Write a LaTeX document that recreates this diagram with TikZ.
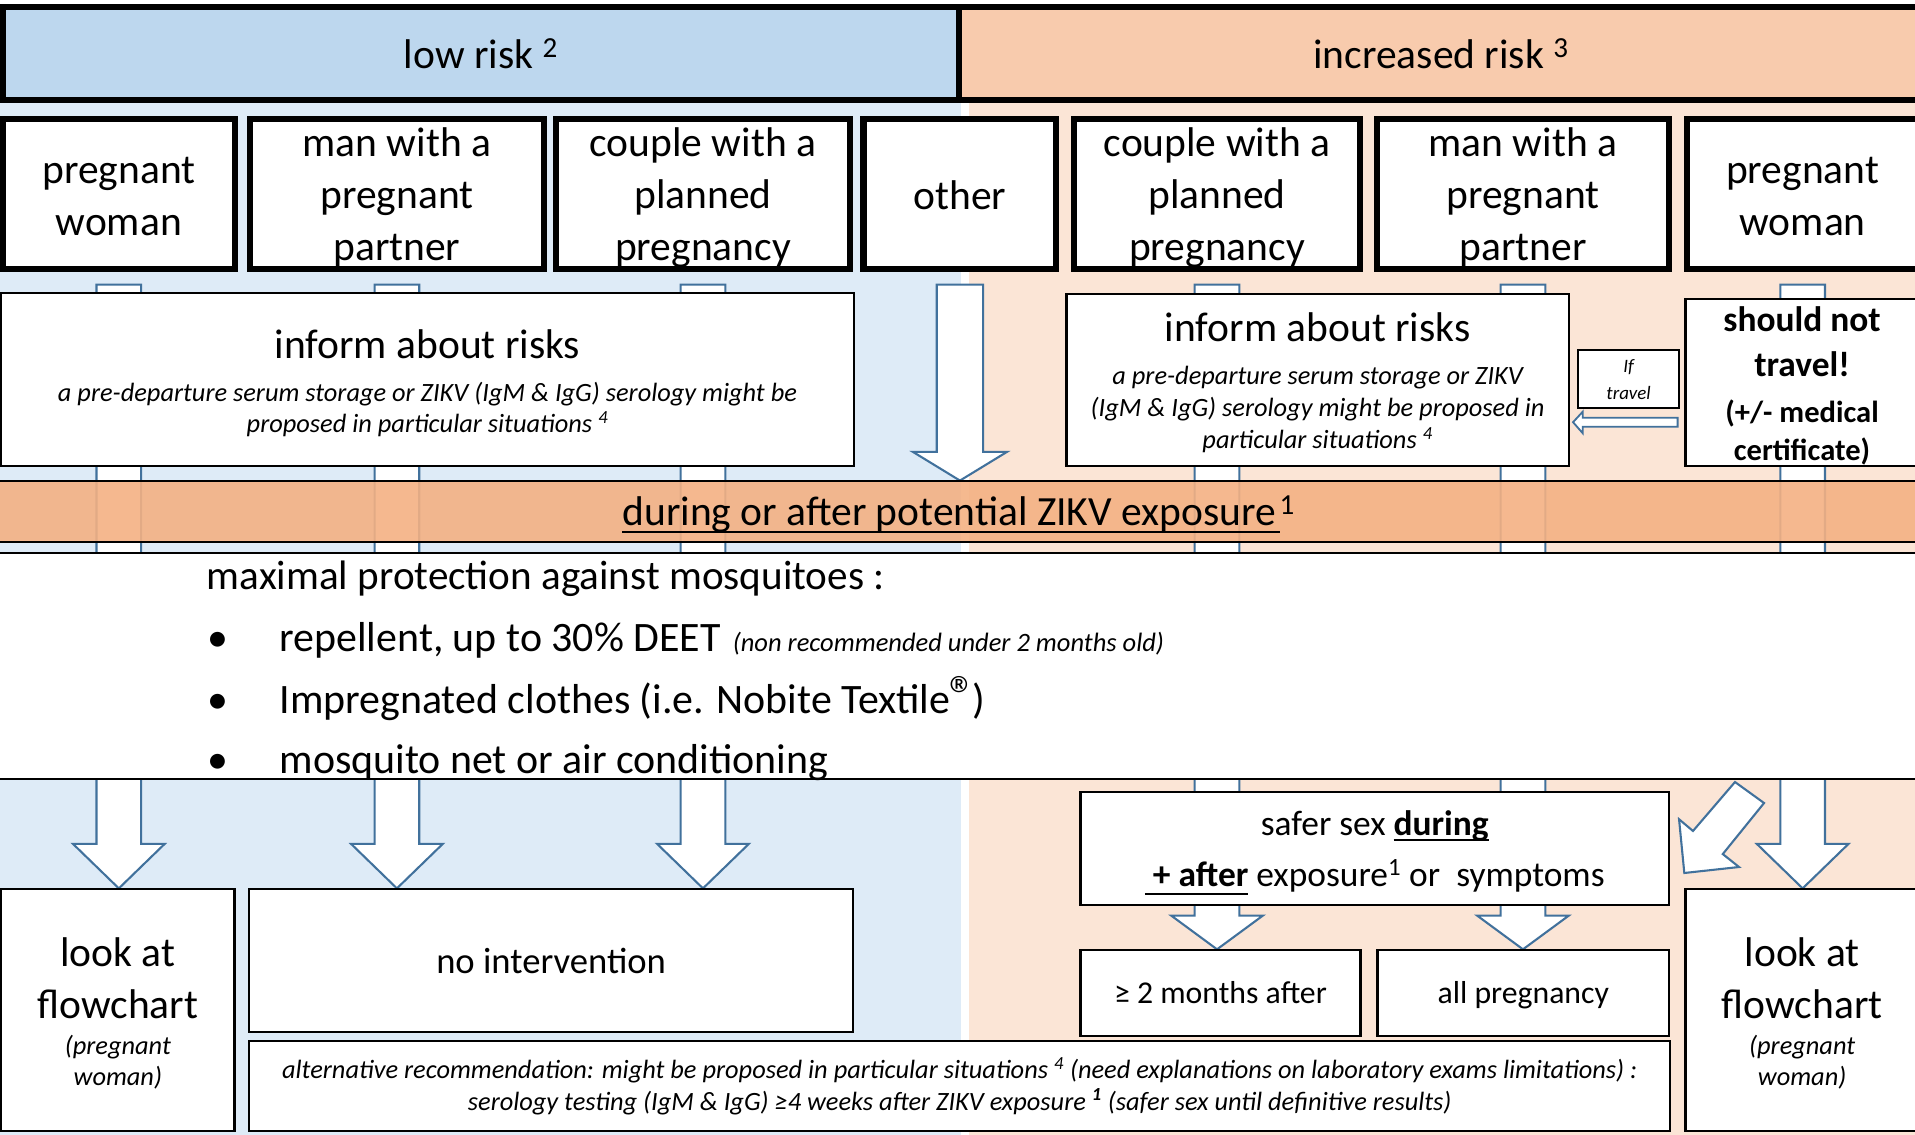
\documentclass[tikz,border=0pt]{standalone}
\usepackage{fontspec}
\setmainfont{Carlito}
\usetikzlibrary{calc}
\definecolor{lowhdr}{HTML}{BDD7EE}
\definecolor{incrhdr}{HTML}{F8CBAD}
\definecolor{lowbg}{HTML}{DEEBF7}
\definecolor{incrbg}{HTML}{FBE5D6}
\definecolor{bandor}{HTML}{F4B183}
\definecolor{arrowln}{HTML}{41719C}
\newcommand\fs[2]{\fontsize{#1}{#2}\selectfont}
\newcommand\ulx[2]{\setbox0=\hbox{#2}\rlap{\rule[#1]{\wd0}{2pt}}\box0}
\tikzset{
  hdrbox/.style={draw=black, line width=5pt, inner sep=0pt, minimum height=75.9pt, font=\fs{34}{42}},
  grpbox/.style={draw=black, line width=5pt, fill=white, inner sep=0pt, minimum height=123pt},
  grptext/.style={inner sep=0pt, align=center, font=\fs{34}{42.5}},
  thinbox/.style={draw=black, line width=1.8pt, fill=white, inner sep=0pt},
  blockarrow/.style={draw=arrowln, line width=1.7pt, fill=white, line join=miter},
  lbl/.style={inner sep=0pt, anchor=base},
  lblw/.style={inner sep=0pt, anchor=base west},
  big/.style={font=\fs{34}{42}},
  mid/.style={font=\fs{34.3}{40}},
  ital/.style={font=\fs{21.6}{25}\itshape},
}
\newcommand\blockdown[6]{%
  \draw[blockarrow] ($(#1.center |- 0,#2)+(-#5,0)$) -- ($(#1.center |- 0,#2)+(#5,0)$)
    -- ($(#1.center |- 0,#3)+(#5,0)$) -- ($(#1.center |- 0,#3)+(#6,0)$)
    -- (#1.center |- 0,#4) -- ($(#1.center |- 0,#3)+(-#6,0)$)
    -- ($(#1.center |- 0,#3)+(-#5,0)$) -- cycle;}
\begin{document}
\begin{tikzpicture}[x=1pt,y=-1pt]
\useasboundingbox (0,0) rectangle (1568,929);
\clip (0,0) rectangle (1568,929);
% backgrounds
\fill[lowbg] (0,82) rectangle (787,929);
\fill[incrbg] (793,82) rectangle (1568,929);
% header
\node[hdrbox, fill=lowhdr, minimum width=782.5pt] (lowrisk) at (393.75,43.65) {low risk \textsuperscript{2}};
\node[hdrbox, fill=incrhdr, minimum width=790pt] (incrrisk) at (1180,43.65) {increased risk \textsuperscript{3}};
% groups
\node[grpbox, minimum width=189.5pt] (b1) at (97.3,158.9) {};
\node[grpbox, minimum width=240.6pt] (b2) at (325,158.9) {};
\node[grpbox, minimum width=240.7pt] (b3) at (575.6,158.9) {};
\node[grpbox, minimum width=158pt] (b4) at (786,158.9) {};
\node[grpbox, minimum width=233.6pt] (b5) at (996.5,158.9) {};
\node[grpbox, minimum width=239.2pt] (b6) at (1247,158.9) {};
\node[grpbox, minimum width=190pt] (b7) at (1476,158.9) {};
\node[grptext] (b1t) at ($(b1.center)+(0,2)$) {pregnant\\woman};
\node[grptext] (b2t) at ($(b2.center)+(0,3)$) {man with a\\pregnant\\partner};
\node[grptext] (b3t) at ($(b3.center)+(0,3)$) {couple with a\\planned\\pregnancy};
\node[grptext] (b4t) at ($(b4.center)+(0,1)$) {other};
\node[grptext] (b5t) at ($(b5.center)+(0,3)$) {couple with a\\planned\\pregnancy};
\node[grptext] (b6t) at ($(b6.center)+(0,3)$) {man with a\\pregnant\\partner};
\node[grptext] (b7t) at ($(b7.center)+(0,2)$) {pregnant\\woman};
% long block arrows
\blockdown{b1}{233}{691}{727.4}{18.3}{37.5}
\blockdown{b2}{233}{691}{727.4}{18.3}{37.5}
\blockdown{b3}{233}{691}{727.4}{18.3}{37.5}
\blockdown{b5}{233}{749.7}{777.3}{18.3}{37.5}
\blockdown{b6}{233}{749.7}{777.3}{18.3}{37.5}
\blockdown{b7}{233}{691}{727.4}{18.3}{37.5}
\blockdown{b4}{233}{370}{393.5}{19}{38.5}
% protection band
\node[draw=black, line width=2pt, fill=white, inner sep=0pt, minimum width=1590pt, minimum height=185pt] (protband) at (784,545.5) {};
% exposure band
\node[draw=black, line width=1.6pt, fill=bandor, fill opacity=0.9, inner sep=0pt, minimum width=1590pt, minimum height=50pt] (exposure) at (784,418.55) {};
\node[lbl, big] (exptext) at (785,430) {\ulx{-6.5pt}{during or after potential ZIKV exposure\hspace{3pt}}\textsuperscript{1}};
% inform boxes
\node[thinbox, minimum width=698pt, minimum height=141.5pt] (infL) at (350,310.75) {};
\node[lbl, big] (infLt) at (350,293.4) {inform about risks};
\node[lbl, ital] (infLa) at (350,328.9) {a pre-departure serum storage or ZIKV (IgM \& IgG) serology might be};
\node[lbl, ital] (infLb) at (350,354.3) {proposed in particular situations \textsuperscript{4}};
\node[thinbox, minimum width=411.1pt, minimum height=140.9pt] (infR) at (1078.85,311.15) {};
\node[lbl, big] (infRt) at (1078.85,279.8) {inform about risks};
\node[lbl, ital] (infRa) at (1078.85,315.2) {a pre-departure serum storage or ZIKV};
\node[lbl, ital] (infRb) at (1078.85,341.2) {(IgM \& IgG) serology might be proposed in};
\node[lbl, ital] (infRc) at (1078.85,367.1) {particular situations \textsuperscript{4}};
% if travel
\node[thinbox, line width=1.4pt, minimum width=83pt, minimum height=47.4pt] (iftravel) at (1333.5,310.3) {};
\node[lbl, font=\fs{15.5}{19}\itshape] (iftravela) at (1333.5,305) {If};
\node[lbl, font=\fs{15.5}{19}\itshape] (iftravelb) at (1333.5,327) {travel};
\coordinate (tipL) at (1288,345.7);
\draw[blockarrow, line width=1.5pt] (tipL) -- (1296,337) -- (1296,342) -- (1373.6,342) -- (1373.6,349.4) -- (1296,349.4) -- (1296,354.8) -- cycle;
% should not travel
\node[thinbox, minimum width=191pt, minimum height=136.6pt] (notravel) at (1475.5,313.3) {};
\node[lbl, font=\fs{29}{36}\bfseries] (nt1) at (1475.5,271.6) {should not};
\node[lbl, font=\fs{29}{36}\bfseries] (nt2) at (1475.5,308) {travel!};
\node[lbl, font=\fs{25}{31}\bfseries] (nt3) at (1475.5,346) {(+/- medical};
\node[lbl, font=\fs{25}{31}\bfseries] (nt4) at (1475.5,377) {certificate)};
% protection text
\node[lblw, font=\fs{33.7}{40}] (prot0) at (169.2,483) {maximal protection against mosquitoes :};
\node[lbl, mid] (bul1) at (178.6,533.6) {•};
\node[lbl, mid] (bul2) at (178.6,584) {•};
\node[lbl, mid] (bul3) at (178.6,633.2) {•};
\node[lblw, mid] (prot1) at (228.7,533.6) {repellent, up to 30\% DEET\hspace{10pt}{\fs{21.7}{24}\itshape (non recommended under 2 months old)}};
\node[lblw, mid] (prot2) at (228.7,584) {Impregnated clothes (i.e. Nobite Textile\kern-1pt{\fs{44}{44}®}\kern-3pt)};
\node[lblw, mid] (prot3) at (228.7,633.2) {mosquito net or air conditioning};
% bottom left
\node[thinbox, minimum width=191pt, minimum height=198pt] (lookL) at (96.5,827) {};
\node[lbl, big] (lookLa) at (96.5,791.5) {look at};
\node[lbl, big] (lookLb) at (96.5,833.8) {flowchart};
\node[lbl, ital] (lookLc) at (96.5,863.8) {(pregnant};
\node[lbl, ital] (lookLd) at (96.5,889.2) {woman)};
\node[thinbox, minimum width=494.5pt, minimum height=117.3pt] (nointerv) at (451.25,786.65) {};
\node[lbl, font=\fs{30}{36}] (nointervt) at (451.25,797) {no intervention};
\node[thinbox, minimum width=1163.6pt, minimum height=73.6pt] (altrec) at (785.8,889.2) {};
\node[lbl, ital] (altreca) at (785.8,883) {alternative recommendation: might be proposed in particular situations \textsuperscript{4} (need explanations on laboratory exams limitations) :};
\node[lbl, ital] (altrecb) at (785.8,908.9) {serology testing (IgM \& IgG) ≥4 weeks after ZIKV exposure \textsuperscript{\bfseries 1} (safer sex until definitive results)};
% bottom right
\node[thinbox, minimum width=481.9pt, minimum height=92.2pt] (safer) at (1125.65,694.9) {};
\node[lbl, font=\fs{29}{36}] (safera) at (1125.65,683.7) {safer sex \textbf{\ulx{-5.1pt}{during}}};
\node[lbl, font=\fs{29}{36}] (saferb) at (1125.65,726) {\textbf{\ulx{-7pt}{\ + after}} exposure\textsuperscript{1} or\ \ symptoms};
\node[thinbox, minimum width=229.2pt, minimum height=70.1pt] (twomonths) at (999.3,812.95) {};
\node[lbl, font=\fs{26}{32}] (twomonthst) at (999.3,821.5) {≥ 2 months after};
\node[thinbox, minimum width=238.7pt, minimum height=70.1pt] (allpreg) at (1247.25,812.95) {};
\node[lbl, font=\fs{26}{32}] (allpregt) at (1247.25,821.5) {all pregnancy};
\node[thinbox, minimum width=191pt, minimum height=198pt] (lookR) at (1475.6,827) {};
\node[lbl, big] (lookRa) at (1475.6,791.5) {look at};
\node[lbl, big] (lookRb) at (1475.6,833.8) {flowchart};
\node[lbl, ital] (lookRc) at (1475.6,863.8) {(pregnant};
\node[lbl, ital] (lookRd) at (1475.6,889.2) {woman)};
\draw[blockarrow] (1420.6,640.3) -- (1444.4,657.5) -- (1410.6,699.3) -- (1423.9,709.9) -- (1379.1,714.8) -- (1374.8,670.8) -- (1386.2,680.4) -- cycle;
\end{tikzpicture}
\end{document}
